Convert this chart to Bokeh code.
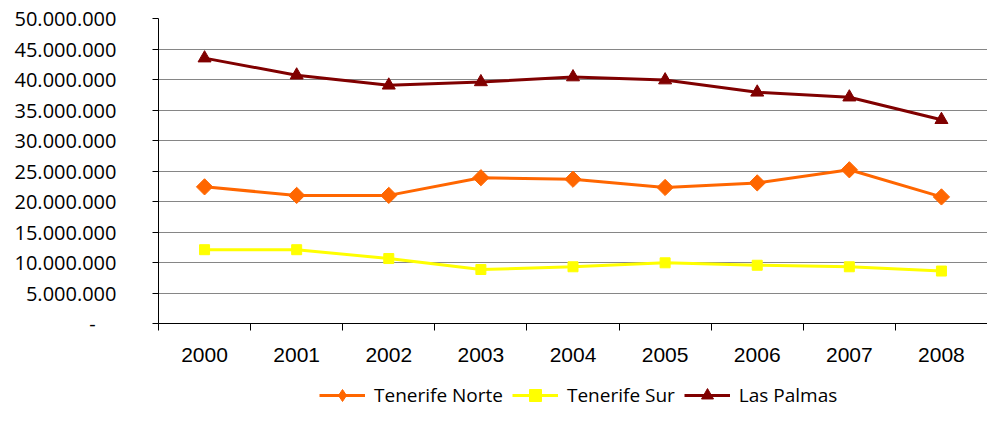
import numpy as np
from bokeh.plotting import figure
from bokeh.layouts import column
from bokeh.models import Range1d, FixedTicker, Legend, LegendItem
from bokeh.embed import file_html
from bokeh.resources import INLINE

years = [2000, 2001, 2002, 2003, 2004, 2005, 2006, 2007, 2008]
tenerife_norte = [22.4e6, 21.0e6, 21.0e6, 23.9e6, 23.65e6, 22.3e6, 23.05e6, 25.2e6, 20.75e6]
tenerife_sur = [12.1e6, 12.1e6, 10.65e6, 8.85e6, 9.3e6, 9.95e6, 9.55e6, 9.3e6, 8.6e6]
las_palmas = [43.5e6, 40.7e6, 39.05e6, 39.6e6, 40.4e6, 39.9e6, 37.9e6, 37.1e6, 33.4e6]

y_ticks = [0, 5e6, 10e6, 15e6, 20e6, 25e6, 30e6, 35e6, 40e6, 45e6, 50e6]
y_labels = ["-\u00a0\u00a0\u00a0\u00a0", "5.000.000", "10.000.000", "15.000.000", "20.000.000",
            "25.000.000", "30.000.000", "35.000.000", "40.000.000", "45.000.000", "50.000.000"]

NORTE_C, SUR_C, PALMAS_C = "#FF6600", "#FFFF00", "#800000"

p = figure(width=987, height=374, output_backend="svg", toolbar_location=None,
           x_range=Range1d(years[0] - 0.5, years[-1] + 0.5),
           y_range=Range1d(y_ticks[0], y_ticks[-1]),
           min_border_left=158, min_border_right=0, min_border_top=18, min_border_bottom=51)
p.outline_line_color = None

# axes
p.xaxis.ticker = FixedTicker(ticks=years, minor_ticks=[y - 0.5 for y in years] + [years[-1] + 0.5])
p.xaxis.major_label_overrides = {y: str(y) for y in years}
p.xaxis.major_tick_out = 0
p.xaxis.major_tick_in = 0
p.xaxis.minor_tick_out = 7
p.xaxis.minor_tick_in = 0
p.xaxis.minor_tick_line_color = "#000000"
p.xaxis.axis_line_color = "#000000"
p.xaxis.major_label_text_font = "Liberation Sans"
p.xaxis.major_label_text_font_size = "21px"
p.xaxis.major_label_text_color = "#000000"
p.xaxis.major_label_standoff = 17

p.yaxis.ticker = FixedTicker(ticks=y_ticks)
p.yaxis.major_label_overrides = {t: l for t, l in zip(y_ticks, y_labels)}
p.yaxis.major_tick_out = 6
p.yaxis.major_tick_in = 0
p.yaxis.minor_tick_line_color = None
p.yaxis.axis_line_color = "#000000"
p.yaxis.major_tick_line_color = "#000000"
p.yaxis.major_label_text_font = "Open Sans"
p.yaxis.major_label_text_font_size = "20px"
p.yaxis.major_label_text_color = "#000000"
p.yaxis.major_label_standoff = 36

p.xgrid.visible = False
p.ygrid.ticker = FixedTicker(ticks=y_ticks[1:-1])
p.ygrid.grid_line_color = "#868686"
p.ygrid.grid_line_width = 1

# series
p.line(years, tenerife_norte, line_color=NORTE_C, line_width=3)
p.scatter(years, tenerife_norte, marker="square", angle=np.pi / 4, size=11.5,
          fill_color=NORTE_C, line_color=NORTE_C)
p.line(years, tenerife_sur, line_color=SUR_C, line_width=3)
p.scatter(years, tenerife_sur, marker="square", size=10,
          fill_color=SUR_C, line_color=SUR_C)
p.line(years, las_palmas, line_color=PALMAS_C, line_width=3)
p.scatter(years, las_palmas, marker="triangle", size=13,
          fill_color=PALMAS_C, line_color=PALMAS_C)

# legend strip (separate small figure below the chart; its glyphs lie outside its view)
lg = figure(width=987, height=36, output_backend="svg", toolbar_location=None,
            x_axis_location=None, y_axis_location=None,
            x_range=Range1d(0, 1), y_range=Range1d(0, 1),
            min_border_left=0, min_border_right=0, min_border_top=0, min_border_bottom=0)
lg.outline_line_color = None
lg.grid.visible = False
a1 = lg.line(years, tenerife_norte, line_color=NORTE_C, line_width=3)
b1 = lg.scatter(years, tenerife_norte, marker="diamond", size=12,
                fill_color=NORTE_C, line_color=NORTE_C)
a2 = lg.line(years, tenerife_sur, line_color=SUR_C, line_width=3)
b2 = lg.scatter(years, tenerife_sur, marker="square", size=10,
                fill_color=SUR_C, line_color=SUR_C)
a3 = lg.line(years, las_palmas, line_color=PALMAS_C, line_width=3)
b3 = lg.scatter(years, las_palmas, marker="triangle", size=13,
                fill_color=PALMAS_C, line_color=PALMAS_C)

legend = Legend(items=[
    LegendItem(label="Tenerife Norte", renderers=[a1, b1]),
    LegendItem(label="Tenerife Sur", renderers=[a2, b2]),
    LegendItem(label="Las Palmas", renderers=[a3, b3]),
], orientation="horizontal", location=(161, 0))
legend.border_line_color = None
legend.background_fill_alpha = 0
legend.label_text_font = "Open Sans"
legend.label_text_font_size = "19px"
legend.label_text_color = "#000000"
legend.glyph_width = 46
legend.glyph_height = 30
legend.label_height = 30
legend.label_standoff = 9
legend.spacing = 9
legend.padding = 0
legend.margin = 0
lg.add_layout(legend, "center")

layout = column(p, lg, spacing=0)
open("out.html", "w").write(file_html(layout, INLINE))
